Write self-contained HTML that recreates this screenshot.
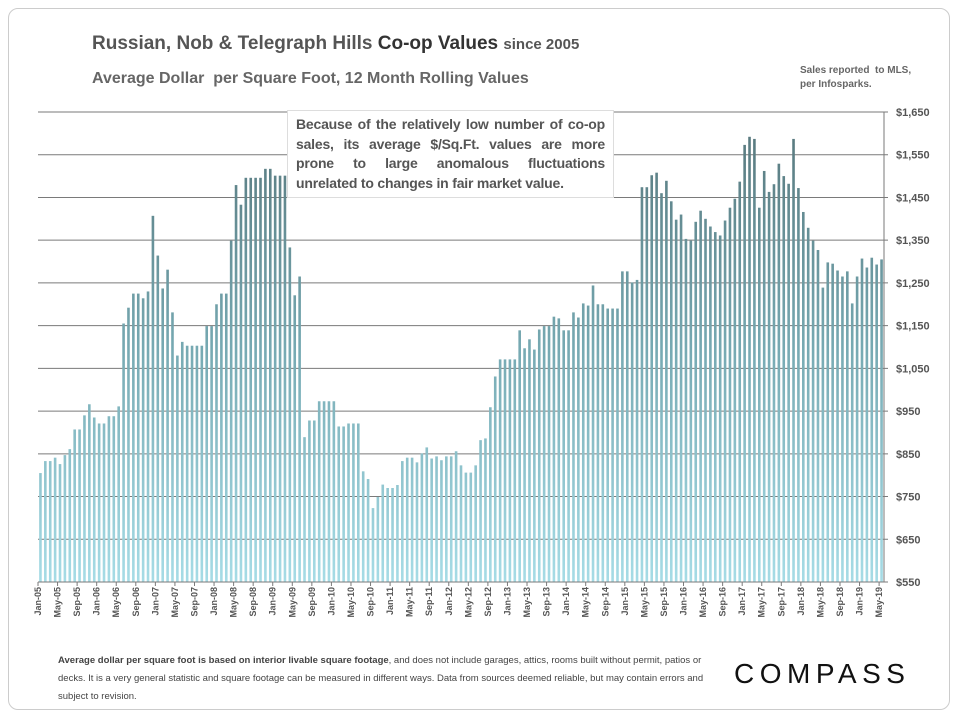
<!DOCTYPE html>
<html><head><meta charset="utf-8"><style>
body{margin:0;background:#fff;font-family:"Liberation Sans",sans-serif;}
#frame{position:absolute;left:8px;top:8px;width:940px;height:700px;border:1px solid #ccc;border-radius:10px;}
.t1{position:absolute;left:92px;top:33px;font-size:19px;font-weight:bold;color:#555;}
.t2{position:absolute;left:92px;top:70px;font-size:16px;font-weight:bold;color:#666;}
.src{position:absolute;left:800px;top:64px;font-size:10px;font-weight:bold;color:#666;line-height:14px;}
.note{position:absolute;left:287px;top:110px;width:309px;height:78px;padding:4px 8px;border:1px solid #ddd;background:#fff;font-size:14px;font-weight:bold;color:#555;line-height:19.5px;text-align:justify;letter-spacing:-0.2px;}
.foot{position:absolute;left:58px;top:652px;width:665px;font-size:9.5px;color:#444;line-height:18px;}
.logo{position:absolute;left:734px;top:658px;font-size:28px;letter-spacing:5.5px;color:#111;}
</style></head><body>
<div id="frame"></div>
<div class="t1">Russian, Nob &amp; Telegraph Hills <span style="color:#333">Co-op Values</span> <span style="font-size:15px">since 2005</span></div>
<div class="t2">Average Dollar &nbsp;per Square Foot, 12 Month Rolling Values</div>
<div class="src">Sales reported &nbsp;to MLS,<br>per Infosparks.</div>
<svg id="chart" width="960" height="720" style="position:absolute;left:0;top:0">
<defs><linearGradient id="g" gradientUnits="userSpaceOnUse" x1="0" y1="582" x2="0" y2="112"><stop offset="0" stop-color="#a6dce6"/><stop offset="0.5" stop-color="#76a9b2"/><stop offset="1" stop-color="#56757a"/></linearGradient></defs>
</svg>
<div class="note">Because of the relatively low number of co-op sales, its average $/Sq.Ft. values are more prone to large anomalous fluctuations unrelated to changes in fair market value.</div>
<div class="foot"><b>Average dollar per square foot is based on interior livable square footage</b>, and does not include garages, attics, rooms built without permit, patios or decks. It is a very general statistic and square footage can be measured in different ways. Data from sources deemed reliable, but may contain errors and subject to revision.</div>
<div class="logo">COMPASS</div>
<script>
const values=[805,833,833,841,826,847,861,907,907,940,966,935,921,921,938,938,961,1155,1192,1225,1225,1214,1230,1407,1314,1237,1281,1181,1080,1112,1103,1103,1103,1103,1149,1149,1200,1225,1225,1349,1479,1433,1496,1496,1496,1496,1517,1517,1501,1501,1501,1333,1221,1265,889,928,928,973,
973,973,973,914,914,921,921,921,809,791,723,749,778,770,770,777,833,841,841,830,851,865,839,844,835,844,844,856,823,806,806,823,882,886,959,1031,1071,1071,1071,1071,1139,1097,1118,1094,1141,1149,1149,1171,1167,1139,1139,1181,1169,1202,1197,
1244,1200,1200,1190,1190,1190,1277,1277,1251,1257,1474,1474,1502,1508,1460,1489,1441,1398,1410,1353,1349,1393,1419,1400,1382,1369,1361,1396,1426,1447,1487,1573,1592,1587,1426,1512,1463,1481,1529,1500,1482,1587,1472,1416,1379,1349,1327,1239,1298,1295,1279,1265,1277,1202,1265,1307,1286,1309,1293,1305];
const yTicks=[550,650,750,850,950,1050,1150,1250,1350,1450,1550,1650];
const monthNames=["Jan","May","Sep"];
const startYear=2005;
const X0=38,X1=884,Y0=582,Y1=112,VMIN=550,VMAX=1650;
const n=values.length;
const step=(X1-X0)/n;
function xPos(i){return X0+step*(i+0.5);}
function yPos(v){return Y0-(v-VMIN)/(VMAX-VMIN)*(Y0-Y1);}
const svg=document.getElementById('chart');
const NS='http://www.w3.org/2000/svg';
function mk(t,a){const e=document.createElementNS(NS,t);for(const k in a)e.setAttribute(k,a[k]);svg.appendChild(e);return e;}
yTicks.forEach(v=>{
 const l=mk('line',{x1:X0,x2:X1+4,y1:yPos(v),y2:yPos(v),stroke:'#7a7a7a','stroke-width':1});
 
 
 const t=mk('text',{x:X1+12,y:yPos(v)+4,'font-size':11,'font-weight':'bold',fill:'#555','font-family':'Liberation Sans, sans-serif'});
 t.textContent='$'+v.toLocaleString('en-US');
 
 
});
const ax=mk('line',{x1:X1,x2:X1,y1:Y1,y2:Y0,stroke:'#7a7a7a'});


values.forEach((v,i)=>{
 const r=mk('rect',{x:xPos(i)-1.3,y:yPos(v),width:2.6,height:Y0-yPos(v),fill:'url(#g)'});
 
 
});
const bx=mk('line',{x1:X0,x2:X1,y1:Y0,y2:Y0,stroke:'#7a7a7a'});


for(let i=0;i<n;i+=4){
 const m=i%12, yr=startYear+Math.floor(i/12);
 const lbl=monthNames[m/4]+'-'+String(yr%100).padStart(2,'0');
 const x=X0+step*i;
 mk('line',{x1:x,x2:x,y1:Y0,y2:Y0+4,stroke:'#7a7a7a'});
 const t=mk('text',{x:0,y:0,'font-size':9,'font-weight':'bold',fill:'#555','text-anchor':'end','font-family':'Liberation Sans, sans-serif',transform:`translate(${x+3},${Y0+5}) rotate(-90)`});
 t.textContent=lbl;
 
 
}
</script>
</body></html>
